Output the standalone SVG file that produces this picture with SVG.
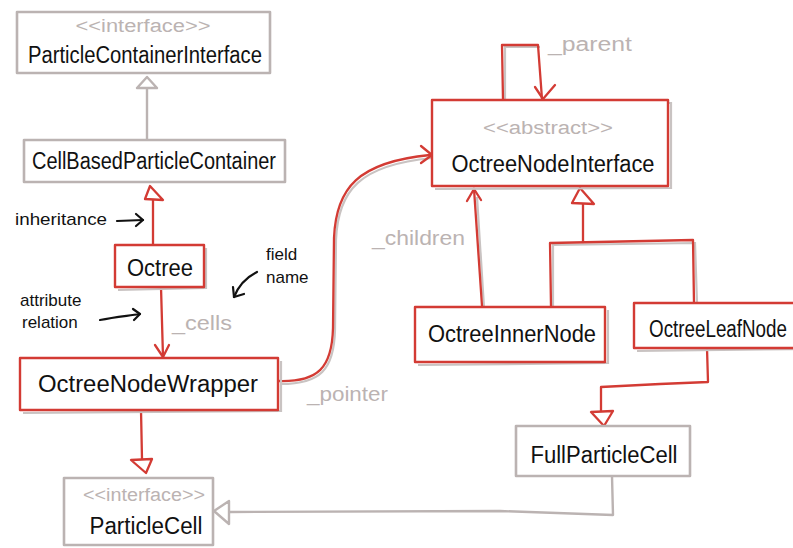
<svg xmlns="http://www.w3.org/2000/svg" width="793" height="548" viewBox="0 0 793 548">
<defs>
<style>
.bg{fill:#fff}
.gb{fill:#fff;stroke:#bbb3b2;stroke-width:2.6;stroke-linejoin:round}
.rb{fill:#fff;stroke:#d33b34;stroke-width:2.4;stroke-linejoin:round}
.sh{fill:none;stroke:#c9c3c2;stroke-width:2.2}
.rl{fill:none;stroke:#d33b34;stroke-width:2.3;stroke-linecap:round;stroke-linejoin:round}
.gl{fill:none;stroke:#bbb3b2;stroke-width:2.4;stroke-linecap:round;stroke-linejoin:round}
.bl{fill:none;stroke:#111;stroke-width:2.2;stroke-linecap:round;stroke-linejoin:round}
.rt{fill:#fff;stroke:#d33b34;stroke-width:2.3;stroke-linejoin:round}
.gt{fill:#fff;stroke:#bbb3b2;stroke-width:2.4;stroke-linejoin:round}
.nm{font-family:"Liberation Sans",Arial,sans-serif;font-size:23px;fill:#111;text-anchor:middle}
.st{font-family:"Liberation Sans",Arial,sans-serif;font-size:18px;fill:#bbb3b2;text-anchor:middle}
.lb{font-family:"Liberation Sans",Arial,sans-serif;font-size:20px;fill:#bbb3b2}
.an{font-family:"Liberation Sans",Arial,sans-serif;font-size:17px;fill:#111}
</style>
</defs>
<rect class="bg" x="0" y="0" width="793" height="548"/>

<g id="connectors">
  <!-- CellBased -> ParticleContainerInterface -->
  <path class="gl" d="M147,140 L147,88"/>
  <path class="gt" d="M137,88 L147,77 L157,88 Z"/>
  <!-- Octree -> CellBased -->
  <path class="rl" d="M153,245 L153,197"/>
  <path class="rt" d="M145,199 L150,186 L163,200 Z"/>
  <!-- Octree -> OctreeNodeWrapper (_cells) -->
  <path class="rl" d="M161,287 L163,357"/>
  <path class="rl" d="M155,345 L163,357 L169,345"/>
  <!-- OctreeNodeWrapper -> ParticleCell -->
  <path class="rl" d="M141,410 L142,459"/>
  <path class="rt" d="M131,460 L152,459 L146,473 Z"/>
  <!-- pointer curve -->
  <path class="sh" d="M281,384 C320,384 334,370 335,330 L336,240 C338,190 360,165 432,158"/>
  <path class="rl" d="M279,381 C318,382 332,368 333,328 L334,238 C336,188 358,162 430,155"/>
  <path class="rl" d="M421,146 L432,155 L421,163"/>
  <!-- parent self loop -->
  <path class="sh" d="M505,101 L505,47 L540,47"/>
  <path class="rl" d="M503,100 L502,45 L538,45 L542,99"/>
  <path class="rl" d="M535,87 L543,99 L555,85"/>
  <!-- children -->
  <path class="sh" d="M484,307 L477,197"/>
  <path class="rl" d="M482,306 L474,189"/>
  <path class="rl" d="M467,201 L474,189 L481,200"/>
  <!-- inheritance from inner/leaf -->
  <path class="sh" d="M553,306 L553,245 L695,243 L697,303"/>
  <path class="rl" d="M551,306 L550,243 L693,240 L694,303"/>
  <path class="rl" d="M583,242 L583,202"/>
  <path class="rt" d="M572,203 L580,188 L594,204 Z"/>
  <!-- leaf -> FullParticleCell -->
  <path class="rl" d="M707,348 L708,382 L660,384 L601,387 L601,411"/>
  <path class="rt" d="M591,412 L613,411 L604,426 Z"/>
  <!-- FullParticleCell -> ParticleCell -->
  <path class="gl" d="M612,476 L613,515 L500,511 L230,512"/>
  <path class="gt" d="M229,501 L214,511 L229,524 Z"/>
  <!-- annotation arrows -->
  <path class="bl" d="M117,221 L143,220"/>
  <path class="bl" d="M136,214 L143,220 L136,226"/>
  <path class="bl" d="M257,272 C245,278 238,287 234,297"/>
  <path class="bl" d="M233,287 L234,297 L244,294"/>
  <path class="bl" d="M100,320 C115,317 127,316 140,314"/>
  <path class="bl" d="M133,309 L140,314 L134,320"/>
</g>

<g id="labels">
  <text class="lb" x="548" y="51" textLength="84" lengthAdjust="spacingAndGlyphs">_parent</text>
  <text class="lb" x="372" y="245" textLength="93" lengthAdjust="spacingAndGlyphs">_children</text>
  <text class="lb" x="172" y="330" textLength="60" lengthAdjust="spacingAndGlyphs">_cells</text>
  <text class="lb" x="307" y="401" textLength="81" lengthAdjust="spacingAndGlyphs">_pointer</text>
  <text class="an" x="15" y="225" textLength="92" lengthAdjust="spacingAndGlyphs">inheritance</text>
  <text class="an" x="266" y="260">field</text>
  <text class="an" x="266" y="283">name</text>
  <text class="an" x="20" y="306">attribute</text>
  <text class="an" x="22" y="328">relation</text>
</g>

<g id="ParticleContainerInterface">
  <rect class="gb" x="17" y="12" width="253" height="61"/>
  <text class="st" x="143" y="32" textLength="135" lengthAdjust="spacingAndGlyphs">&lt;&lt;interface&gt;&gt;</text>
  <text class="nm" x="145" y="63" textLength="234" lengthAdjust="spacingAndGlyphs">ParticleContainerInterface</text>
</g>

<g id="CellBasedParticleContainer">
  <rect class="gb" x="24" y="140" width="261" height="42"/>
  <text class="nm" x="154" y="169" textLength="244" lengthAdjust="spacingAndGlyphs">CellBasedParticleContainer</text>
</g>

<g id="Octree">
  <path class="sh" d="M118,290 L206,288 L206,248"/>
  <rect class="rb" x="115" y="245" width="89" height="42"/>
  <text class="nm" x="160" y="276" textLength="66" lengthAdjust="spacingAndGlyphs">Octree</text>
</g>

<g id="OctreeNodeWrapper">
  <path class="sh" d="M23,413 L281,411 L281,361"/>
  <rect class="rb" x="20" y="358" width="258" height="52"/>
  <text class="nm" x="148" y="392" textLength="220" lengthAdjust="spacingAndGlyphs">OctreeNodeWrapper</text>
</g>

<g id="ParticleCell">
  <rect class="gb" x="64" y="478" width="149" height="67"/>
  <text class="st" x="144" y="501" textLength="122" lengthAdjust="spacingAndGlyphs">&lt;&lt;interface&gt;&gt;</text>
  <text class="nm" x="146" y="534" textLength="113" lengthAdjust="spacingAndGlyphs">ParticleCell</text>
</g>

<g id="OctreeNodeInterface">
  <path class="sh" d="M435,189 L671,188 L671,103 L440,101"/>
  <rect class="rb" x="432" y="100" width="236" height="86"/>
  <text class="st" x="548" y="134" textLength="130" lengthAdjust="spacingAndGlyphs">&lt;&lt;abstract&gt;&gt;</text>
  <text class="nm" x="553" y="172" textLength="203" lengthAdjust="spacingAndGlyphs">OctreeNodeInterface</text>
</g>

<g id="OctreeInnerNode">
  <path class="sh" d="M418,365 L608,363 L608,310"/>
  <rect class="rb" x="415" y="307" width="190" height="55"/>
  <text class="nm" x="512" y="342" textLength="168" lengthAdjust="spacingAndGlyphs">OctreeInnerNode</text>
</g>

<g id="OctreeLeafNode">
  <path class="sh" d="M637,351 L795,349"/>
  <rect class="rb" x="634" y="303" width="170" height="45"/>
  <text class="nm" x="718" y="337" textLength="138" lengthAdjust="spacingAndGlyphs">OctreeLeafNode</text>
</g>

<g id="FullParticleCell">
  <rect class="gb" x="516" y="426" width="174" height="50"/>
  <text class="nm" x="604" y="463" textLength="147" lengthAdjust="spacingAndGlyphs">FullParticleCell</text>
</g>
</svg>
